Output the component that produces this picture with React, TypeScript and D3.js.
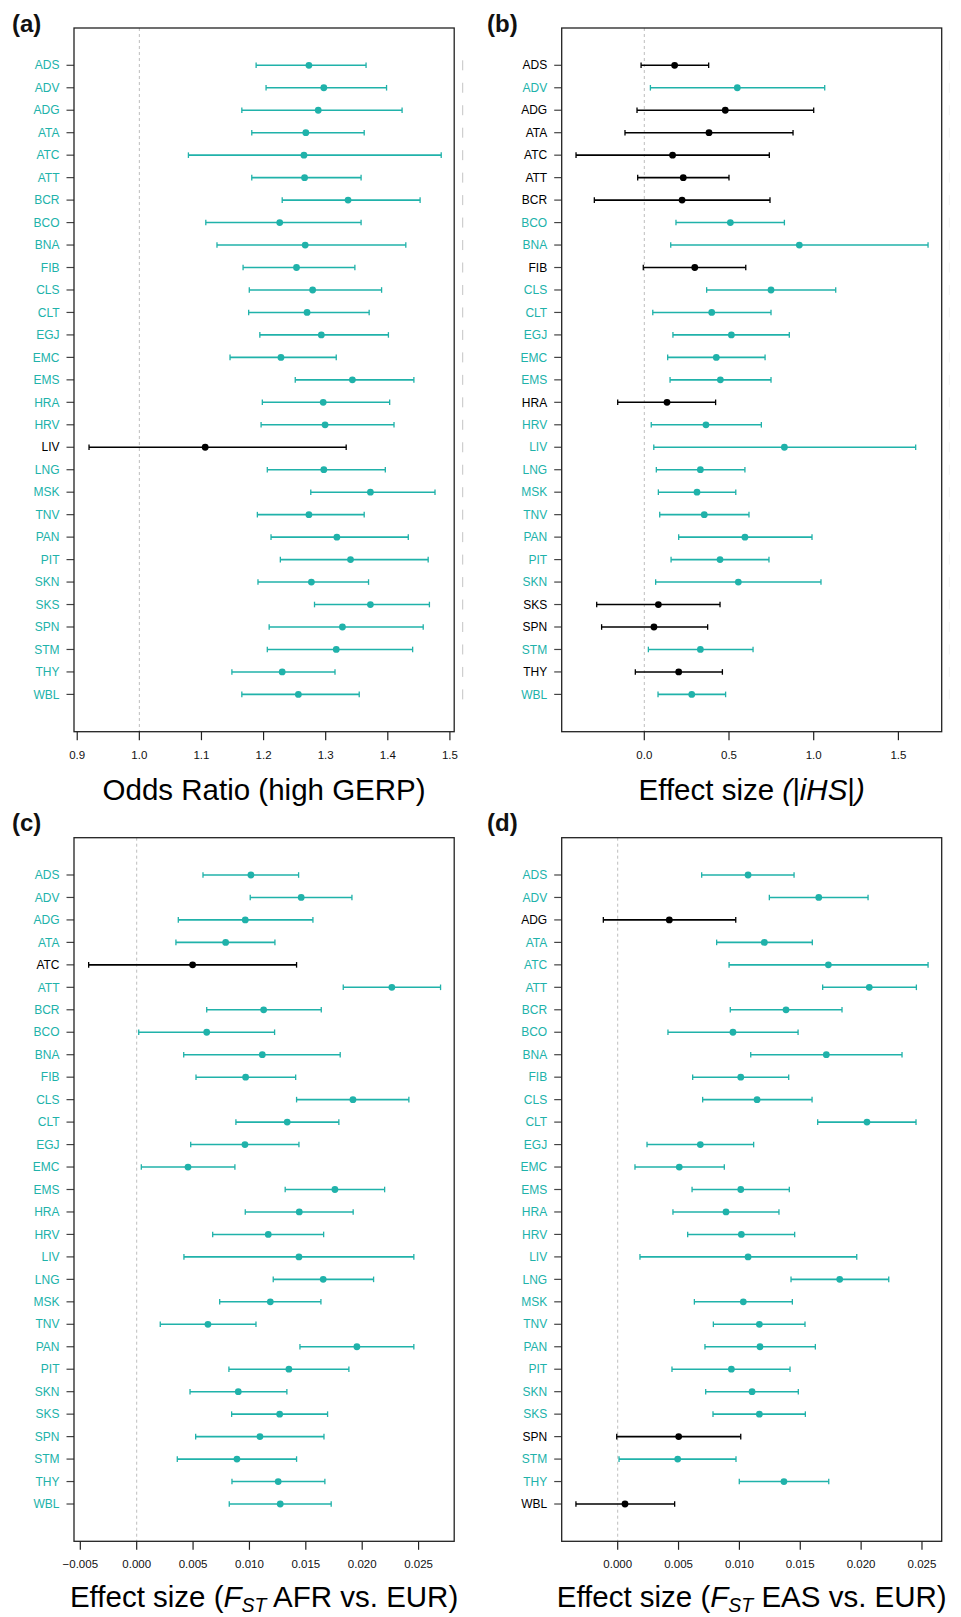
import React from "react";
import * as d3 from "d3";

// ---------- data ----------
const tissues = ["ADS","ADV","ADG","ATA","ATC","ATT","BCR","BCO","BNA","FIB","CLS","CLT","EGJ","EMC","EMS","HRA","HRV","LIV","LNG","MSK","TNV","PAN","PIT","SKN","SKS","SPN","STM","THY","WBL"];

// (a) Odds ratio (high GERP)
const gerpEst = [1.273,1.297,1.288,1.268,1.265,1.266,1.336,1.226,1.267,1.253,1.279,1.270,1.293,1.228,1.343,1.296,1.299,1.106,1.297,1.372,1.273,1.318,1.340,1.277,1.372,1.327,1.317,1.230,1.256];
const gerpLo = [1.188,1.204,1.165,1.181,1.079,1.181,1.230,1.107,1.125,1.167,1.177,1.176,1.194,1.146,1.251,1.198,1.196,0.919,1.206,1.276,1.190,1.212,1.227,1.191,1.282,1.209,1.206,1.149,1.165];
const gerpHi = [1.365,1.398,1.423,1.362,1.486,1.357,1.452,1.357,1.429,1.347,1.390,1.370,1.401,1.317,1.442,1.403,1.410,1.333,1.396,1.476,1.362,1.433,1.465,1.369,1.467,1.457,1.440,1.315,1.354];
const gerpNotSig = ["LIV"];
const gerpTicks = [0.9,1.0,1.1,1.2,1.3,1.4,1.5];
const gerpTickLabels = ["0.9","1.0","1.1","1.2","1.3","1.4","1.5"];

// (b) Effect size |iHS|
const ihsEst = [0.179,0.549,0.478,0.382,0.167,0.230,0.223,0.508,0.915,0.298,0.748,0.398,0.514,0.425,0.449,0.134,0.364,0.827,0.331,0.311,0.354,0.594,0.447,0.555,0.083,0.057,0.331,0.203,0.280];
const ihsLo = [-0.019,0.036,-0.043,-0.114,-0.403,-0.039,-0.295,0.187,0.156,-0.006,0.368,0.050,0.169,0.138,0.152,-0.157,0.041,0.056,0.071,0.083,0.091,0.203,0.158,0.067,-0.281,-0.252,0.024,-0.053,0.081];
const ihsHi = [0.380,1.065,1.000,0.878,0.738,0.500,0.742,0.827,1.675,0.599,1.130,0.748,0.856,0.713,0.748,0.421,0.691,1.602,0.594,0.540,0.618,0.990,0.736,1.043,0.447,0.374,0.642,0.461,0.480];
const ihsNotSig = ["ADS","ADG","ATA","ATC","ATT","BCR","FIB","HRA","SKS","SPN","THY"];
const ihsTicks = [0,0.5,1.0,1.5];
const ihsTickLabels = ["0.0","0.5","1.0","1.5"];

// (c) Effect size FST AFR vs. EUR
const afrEst = [0.01013,0.01459,0.00963,0.00789,0.00496,0.02263,0.01126,0.00621,0.01114,0.00966,0.01918,0.01335,0.00960,0.00455,0.01758,0.01442,0.01167,0.01439,0.01654,0.01185,0.00632,0.01953,0.01350,0.00901,0.01268,0.01093,0.00889,0.01255,0.01273];
const afrLo = [0.00588,0.01007,0.00369,0.00348,-0.00426,0.01832,0.00621,0.00018,0.00417,0.00526,0.01418,0.00880,0.00479,0.00041,0.01317,0.00963,0.00674,0.00419,0.01211,0.00736,0.00209,0.01448,0.00818,0.00473,0.00842,0.00523,0.00360,0.00845,0.00821];
const afrHi = [0.01436,0.01909,0.01563,0.01226,0.01418,0.02695,0.01637,0.01223,0.01805,0.01410,0.02414,0.01793,0.01439,0.00871,0.02199,0.01920,0.01658,0.02458,0.02101,0.01634,0.01058,0.02458,0.01882,0.01332,0.01693,0.01661,0.01418,0.01669,0.01725];
const afrNotSig = ["ATC"];
const afrTicks = [-0.005,0,0.005,0.01,0.015,0.02,0.025];
const afrTickLabels = ["\u22120.005","0.000","0.005","0.010","0.015","0.020","0.025"];

// (d) Effect size FST EAS vs. EUR
const easEst = [0.01071,0.01652,0.00424,0.01205,0.01731,0.02067,0.01383,0.00947,0.01714,0.01011,0.01145,0.02048,0.00679,0.00506,0.01011,0.00890,0.01016,0.01071,0.01824,0.01032,0.01164,0.01169,0.00934,0.01104,0.01164,0.00501,0.00493,0.01366,0.00060];
const easLo = [0.00690,0.01246,-0.00118,0.00813,0.00915,0.01684,0.00925,0.00413,0.01093,0.00616,0.00698,0.01643,0.00241,0.00142,0.00611,0.00454,0.00575,0.00183,0.01424,0.00630,0.00786,0.00717,0.00446,0.00723,0.00783,-0.00008,0.00011,0.00999,-0.00343];
const easHi = [0.01449,0.02057,0.00970,0.01599,0.02550,0.02454,0.01843,0.01482,0.02336,0.01405,0.01597,0.02451,0.01117,0.00876,0.01410,0.01325,0.01454,0.01964,0.02227,0.01435,0.01539,0.01624,0.01416,0.01484,0.01542,0.01011,0.00972,0.01734,0.00468];
const easNotSig = ["ADG","SPN","WBL"];
const easTicks = [0,0.005,0.01,0.015,0.02,0.025];
const easTickLabels = ["0.000","0.005","0.010","0.015","0.020","0.025"];

// ---------- styling ----------
const TEAL = "#20B2AA";
const FONT = "'Liberation Sans', Arial, Helvetica, sans-serif";

type PanelProps = {
  letter: string;
  letterX: number;
  letterY: number;
  left: number;
  right: number;
  top: number;
  bottom: number;
  domain: [number, number];
  est: number[];
  lo: number[];
  hi: number[];
  notSig: string[];
  ticks: number[];
  tickLabels: string[];
  refVal: number;
  title: React.ReactNode;
  titleOffset: number;
  sideMarkColor?: string;
  sideMarkX?: number;
};

function Panel(p: PanelProps) {
  const x = d3.scaleLinear().domain(p.domain).range([p.left, p.right]);
  const pad = 1.66;
  const y = d3.scaleLinear().domain([-pad, tissues.length - 1 + pad]).range([p.top, p.bottom]);
  const cx = (p.left + p.right) / 2;
  return (
    <g>
      <text x={p.letterX} y={p.letterY} fontSize={24} fontWeight="bold" fontFamily={FONT} fill="#111">{p.letter}</text>
      <line x1={x(p.refVal)} x2={x(p.refVal)} y1={p.top} y2={p.bottom} stroke="#bdbdbd" strokeWidth={1} strokeDasharray="3,3" />
      {p.sideMarkColor && tissues.map((t, i) => (
        <line key={"sm" + t} x1={p.sideMarkX} x2={p.sideMarkX} y1={y(i) - 5} y2={y(i) + 5} stroke={p.sideMarkColor} strokeWidth={1} />
      ))}
      {tissues.map((t, i) => {
        const col = p.notSig.includes(t) ? "#000" : TEAL;
        const yy = y(i);
        return (
          <g key={t}>
            <line x1={x(p.lo[i])} x2={x(p.hi[i])} y1={yy} y2={yy} stroke={col} strokeWidth={1.6} />
            <line x1={x(p.lo[i])} x2={x(p.lo[i])} y1={yy - 2.8} y2={yy + 2.8} stroke={col} strokeWidth={1.3} />
            <line x1={x(p.hi[i])} x2={x(p.hi[i])} y1={yy - 2.8} y2={yy + 2.8} stroke={col} strokeWidth={1.3} />
            <circle cx={x(p.est[i])} cy={yy} r={3.4} fill={col} />
          </g>
        );
      })}
      {tissues.map((t, i) => (
        <g key={"y" + t}>
          <line x1={p.left - 7.5} x2={p.left} y1={y(i)} y2={y(i)} stroke="#444" strokeWidth={1.2} />
          <text x={p.left - 14.5} y={y(i)} dy="0.35em" textAnchor="end" fontSize={12} fontFamily={FONT} fill={p.notSig.includes(t) ? "#000" : TEAL}>{t}</text>
        </g>
      ))}
      {p.ticks.map((v, i) => (
        <g key={"x" + i}>
          <line x1={x(v)} x2={x(v)} y1={p.bottom} y2={p.bottom + 8.5} stroke="#222" strokeWidth={1.2} />
          <text x={x(v)} y={p.bottom + 27} textAnchor="middle" fontSize={11.5} fontFamily={FONT} fill="#111">{p.tickLabels[i]}</text>
        </g>
      ))}
      <rect x={p.left} y={p.top} width={p.right - p.left} height={p.bottom - p.top} fill="none" stroke="#222" strokeWidth={1.3} />
      <text x={cx} y={p.bottom + p.titleOffset} textAnchor="middle" fontSize={29.5} fontFamily={FONT} fill="#000">{p.title}</text>
    </g>
  );
}

export default function App() {
  const topA = 28, botA = 731.7, topC = 837.7, botC = 1541.3;
  const L1 = 74, R1 = 454.2, L2 = 561.7, R2 = 941.7;
  return (
    <svg width={961} height={1617} style={{ position: "absolute", left: 0, top: 0, background: "#fff" }}>
      <rect x={0} y={0} width={961} height={1617} fill="#fff" />
      <Panel letter="(a)" letterX={12} letterY={32} left={L1} right={R1} top={topA} bottom={botA}
        domain={[0.8948, 1.5069]} est={gerpEst} lo={gerpLo} hi={gerpHi} notSig={gerpNotSig}
        ticks={gerpTicks} tickLabels={gerpTickLabels} refVal={1.0} titleOffset={68}
        title={"Odds Ratio (high GERP)"} sideMarkColor="#c4c4c4" sideMarkX={462.7} />
      <Panel letter="(b)" letterX={487} letterY={32} left={L2} right={R2} top={topA} bottom={botA}
        domain={[-0.4876, 1.7556]} est={ihsEst} lo={ihsLo} hi={ihsHi} notSig={ihsNotSig}
        ticks={ihsTicks} tickLabels={ihsTickLabels} refVal={0} titleOffset={68}
        title={<><tspan>Effect size </tspan><tspan fontStyle="italic">(|iHS</tspan><tspan>|</tspan><tspan fontStyle="italic">)</tspan></>}
        sideMarkColor="#f2f2f2" sideMarkX={949.3} />
      <Panel letter="(c)" letterX={12} letterY={831} left={L1} right={R1} top={topC} bottom={botC}
        domain={[-0.00556, 0.02816]} est={afrEst} lo={afrLo} hi={afrHi} notSig={afrNotSig}
        ticks={afrTicks} tickLabels={afrTickLabels} refVal={0} titleOffset={66}
        title={<><tspan>Effect size (</tspan><tspan fontStyle="italic">F</tspan><tspan fontStyle="italic" fontSize={19.5} dy={4.5}>ST</tspan><tspan dy={-4.5}> AFR vs. EUR)</tspan></>} />
      <Panel letter="(d)" letterX={487} letterY={831} left={L2} right={R2} top={topC} bottom={botC}
        domain={[-0.0046, 0.02662]} est={easEst} lo={easLo} hi={easHi} notSig={easNotSig}
        ticks={easTicks} tickLabels={easTickLabels} refVal={0} titleOffset={66}
        title={<><tspan>Effect size (</tspan><tspan fontStyle="italic">F</tspan><tspan fontStyle="italic" fontSize={19.5} dy={4.5}>ST</tspan><tspan dy={-4.5}> EAS vs. EUR)</tspan></>} />
    </svg>
  );
}
